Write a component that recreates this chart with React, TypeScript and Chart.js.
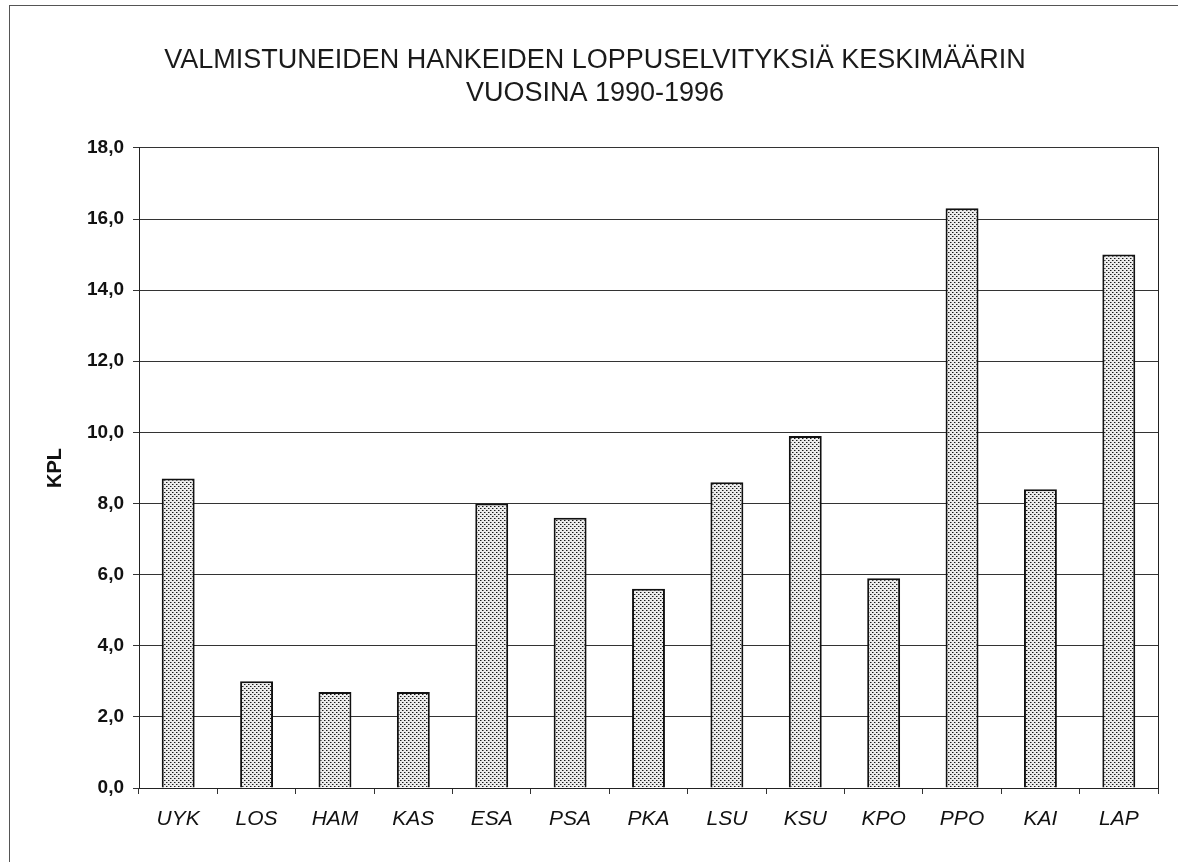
import React, { useEffect, useRef } from "react";
import { Chart, registerables } from "chart.js";

Chart.register(...registerables);

const categories = ["UYK", "LOS", "HAM", "KAS", "ESA", "PSA", "PKA", "LSU", "KSU", "KPO", "PPO", "KAI", "LAP"];
const values = [8.7, 3.0, 2.7, 2.7, 8.0, 7.6, 5.6, 8.6, 9.9, 5.9, 16.3, 8.4, 15.0];
const titleLines = ["VALMISTUNEIDEN HANKEIDEN LOPPUSELVITYKSIÄ KESKIMÄÄRIN", "VUOSINA 1990-1996"];
const yAxisTitle = "KPL";
const yMin = 0;
const yMax = 18;
const yStep = 2;

const FONT = "'Liberation Sans', Arial, Helvetica, sans-serif";

export default function App() {
  const ref = useRef<HTMLCanvasElement>(null);

  useEffect(() => {
    const canvas = ref.current;
    if (!canvas) return;
    const tile = document.createElement("canvas");
    tile.width = 4;
    tile.height = 4;
    const tctx = tile.getContext("2d")!;
    tctx.fillStyle = "#ececec";
    tctx.fillRect(0, 0, 4, 4);
    tctx.fillStyle = "#1a1a1a";
    tctx.fillRect(0, 0, 1, 1);
    tctx.fillRect(2, 2, 1, 1);
    tctx.fillStyle = "#8a8a8a";
    tctx.fillRect(1, 0, 1, 1);
    tctx.fillRect(3, 2, 1, 1);
    const pattern = canvas.getContext("2d")!.createPattern(tile, "repeat");

    const chart = new Chart(canvas, {
      type: "bar",
      data: {
        labels: categories,
        datasets: [
          {
            label: yAxisTitle,
            data: values,
            backgroundColor: pattern as any,
            borderColor: "#111",
            borderWidth: 2,
            categoryPercentage: 1,
            barPercentage: 0.42,
          },
        ],
      },
      options: {
        responsive: false,
        animation: false,
        layout: { padding: { left: 12, right: 0, top: 0, bottom: 0 } },
        plugins: {
          legend: { display: false },
          tooltip: { enabled: false },
          title: {
            display: true,
            text: titleLines,
            color: "#1a1a1a",
            font: { family: FONT, size: 27, weight: "normal", lineHeight: 1.22 },
            padding: { top: 44, bottom: 38 },
          },
        },
        scales: {
          x: {
            grid: { display: true, drawOnChartArea: false, offset: true, tickLength: 6, color: "#333" },
            border: { display: true, color: "#222", width: 1 },
            ticks: { color: "#111", padding: 13, font: { family: FONT, size: 21, style: "italic" } },
            afterFit: (s: any) => {
              s.height = 74;
            },
          },
          y: {
            min: yMin,
            max: yMax,
            ticks: {
              stepSize: yStep,
              callback: (v: any) => Number(v).toFixed(1).replace(".", ","),
              padding: 9,
              color: "#111",
              font: { family: FONT, size: 19, weight: "bold" },
            },
            grid: { color: "#333", tickLength: 6, lineWidth: 1 },
            border: { display: true, color: "#222" },
            title: {
              display: true,
              text: yAxisTitle,
              color: "#111",
              font: { family: FONT, size: 20, weight: "bold" },
              padding: { top: 31, bottom: 0 },
            },
            afterFit: (s: any) => {
              s.width = 127;
            },
          },
          y2: {
            position: "right",
            display: true,
            grid: { display: false, drawTicks: false },
            ticks: { display: false },
            border: { display: true, color: "#222" },
            afterFit: (s: any) => {
              s.width = 20;
            },
          },
        },
      },
    } as any);
    return () => chart.destroy();
  }, []);

  return (
    <div style={{ position: "absolute", left: 0, top: 0, width: 1178, height: 862, background: "#fff" }}>
      <div
        style={{
          position: "absolute",
          left: 9,
          top: 5,
          width: 1169,
          height: 857,
          borderTop: "1px solid #555",
          borderLeft: "1px solid #555",
          boxSizing: "border-box",
        }}
      />
      <canvas ref={ref} width={1178} height={862} style={{ position: "absolute", left: 0, top: 0 }} />
    </div>
  );
}
